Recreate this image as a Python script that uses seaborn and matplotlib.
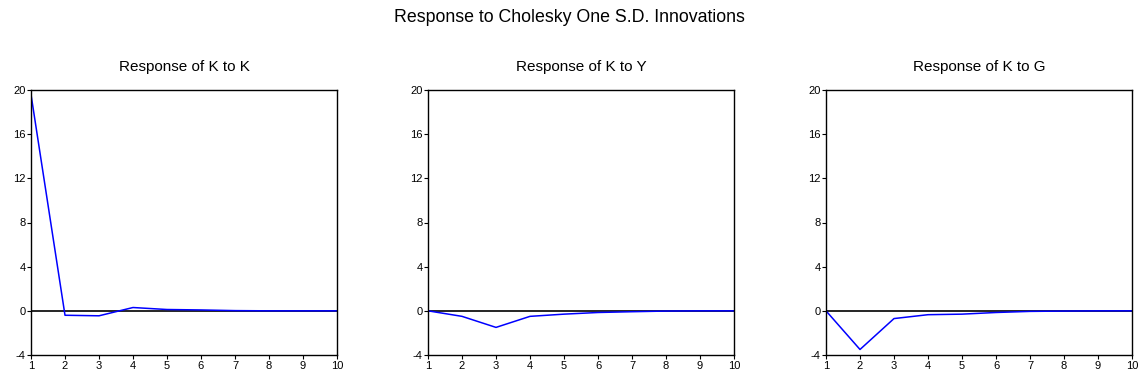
import matplotlib
matplotlib.use("Agg")
import matplotlib.pyplot as plt
import seaborn as sns
import pandas as pd

periods = [1, 2, 3, 4, 5, 6, 7, 8, 9, 10]
k_to_k = [19.6, -0.4, -0.45, 0.3, 0.12, 0.08, 0.02, 0.0, 0.0, 0.0]
k_to_y = [0.0, -0.5, -1.5, -0.5, -0.3, -0.15, -0.08, -0.02, 0.0, 0.0]
k_to_g = [0.0, -3.5, -0.7, -0.35, -0.3, -0.15, -0.05, -0.02, 0.0, 0.0]
titles = ["Response of K to K", "Response of K to Y", "Response of K to G"]
series = [k_to_k, k_to_y, k_to_g]
yticks = [-4, 0, 4, 8, 12, 16, 20]

sns.set_style("white")
plt.rcParams['font.family'] = ['Liberation Sans', 'DejaVu Sans']
plt.rcParams['axes.unicode_minus'] = False

fig = plt.figure(figsize=(11.39, 3.83), dpi=100)
W, H = 1139, 383
lefts = [31, 428, 826]
width = 306
top, bottom = 90, 355

for i, (left, vals, title) in enumerate(zip(lefts, series, titles)):
    ax = fig.add_axes([left / W, 1 - bottom / H, width / W, (bottom - top) / H])
    df = pd.DataFrame({"period": periods, "value": vals})
    ax.axhline(0, color="black", lw=1.2, zorder=1)
    sns.lineplot(data=df, x="period", y="value", ax=ax, color="#0000ff", lw=1.1, zorder=2)
    ax.set_xlim(1, 10)
    ax.set_ylim(-4, 20)
    ax.set_xticks(periods)
    ax.set_yticks(yticks)
    ax.set_xlabel("")
    ax.set_ylabel("")
    ax.tick_params(axis="both", direction="out", length=3, width=0.8, labelsize=8, pad=1,
                   bottom=True, left=True, colors="black")
    for s in ax.spines.values():
        s.set_color("black")
        s.set_linewidth(1.0)
    ax.set_title(title, fontsize=11, pad=14, color="black")

fig.text(0.5, 1 - 17 / H, "Response to Cholesky One S.D. Innovations", ha="center", va="center",
         fontsize=12.8, color="black")
fig.savefig("out.png", dpi=100, facecolor="white")
